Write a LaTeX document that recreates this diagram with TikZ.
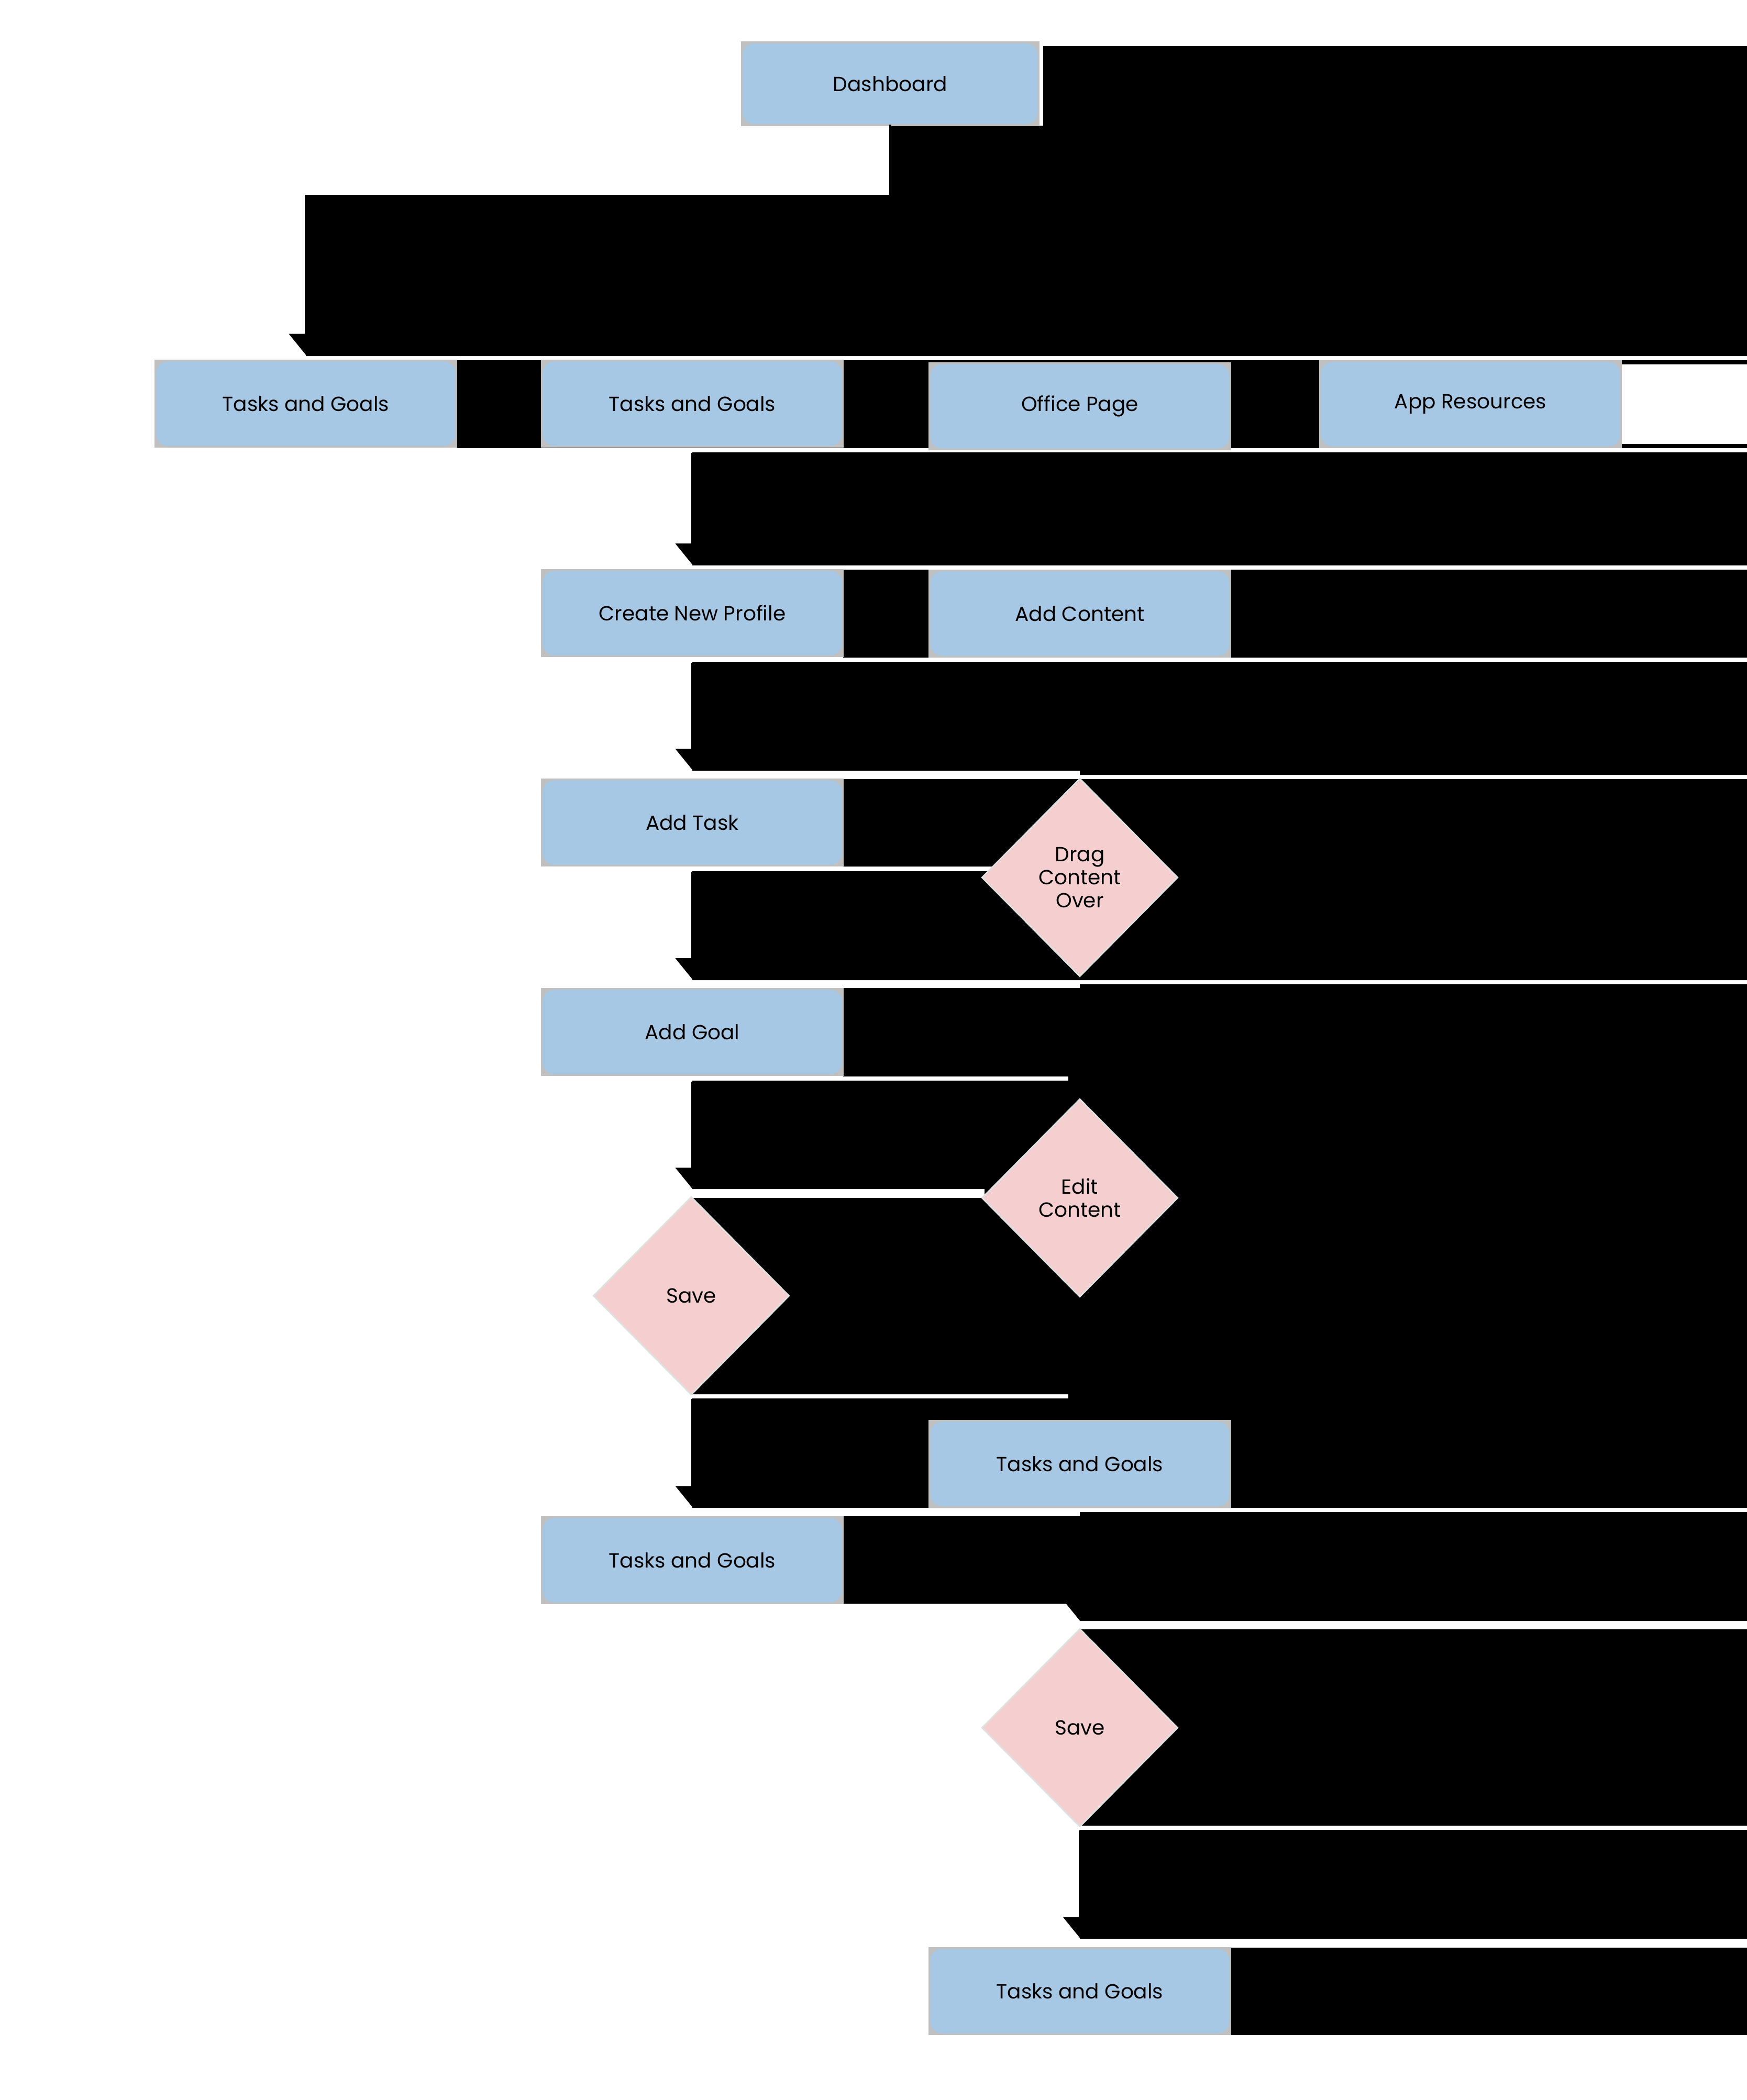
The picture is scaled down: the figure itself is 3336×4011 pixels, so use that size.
\documentclass[tikz,border=0pt]{standalone}
\usepackage{fontspec}
\setmainfont{Poppins}
\usetikzlibrary{shapes.geometric,arrows.meta}
\definecolor{boxblue}{HTML}{A7C8E5}
\definecolor{diapink}{HTML}{F5CFD0}
\definecolor{shadegray}{HTML}{C0C0C0}
\newcommand\labelfont{\fontsize{11.1pt}{12.6pt}\selectfont}
\pgfdeclarelayer{fills}
\pgfdeclarelayer{shades}
\pgfsetlayers{fills,shades,main}
\begin{document}
\begin{tikzpicture}[x=0.01cm,y=-0.01cm,
  card/.style={rectangle, rounded corners=0.22cm, fill=boxblue, minimum width=5.71cm,
    minimum height=1.61cm, inner sep=0pt, font=\labelfont},
  choice/.style={diamond, aspect=1, fill=diapink, draw=black!12, line width=0.03cm,
    minimum width=3.74cm, minimum height=3.78cm, inner sep=0pt, font=\labelfont, align=center},
  conn/.style={draw=black, line width=0.04cm, -{Triangle[width=0.64cm,length=0.40cm]}},
  blk/.style={fill=black}]
\useasboundingbox (0,0) rectangle (3336,4011);

% nodes
\node[card, minimum width=5.63cm, minimum height=1.54cm] (dash) at (1700,160) {Dashboard};
\node[card] (tgA)     at (584,771)  {Tasks and Goals};
\node[card] (tgB)     at (1322,771) {Tasks and Goals};
\node[card] (office)  at (2062,776) {Office Page};
\node[card] (appres)  at (2808,772) {App Resources};
\node[card] (profile) at (1322,1171) {Create New Profile};
\node[card] (content) at (2062,1172) {Add Content};
\node[card] (task)    at (1322,1571) {Add Task};
\node[choice] (drag)  at (2062,1676) {Drag\\Content\\Over};
\node[card] (goal)    at (1322,1971) {Add Goal};
\node[choice] (edit)  at (2062,2288) {Edit\\Content};
\node[choice] (saveA) at (1320,2475) {Save};
\node[card] (tgC)     at (2062,2796) {Tasks and Goals};
\node[card] (tgD)     at (1322,2980) {Tasks and Goals};
\node[choice] (saveB) at (2062,3300) {Save};
\node[card] (tgE)     at (2062,3803) {Tasks and Goals};

% grey frames behind the cards
\begin{pgfonlayer}{shades}
\foreach \n in {dash,tgA,tgB,office,appres,profile,content,task,goal,tgC,tgD,tgE}
  \fill[shadegray] ([shift={(-3,-3)}]\n.north west) rectangle ([shift={(3,3)}]\n.south east);
\end{pgfonlayer}

% black fields
\begin{pgfonlayer}{fills}
\fill[white] (0,0) rectangle (3336,4011);
\fill[blk] (1992,88) -- (3336,88) -- (3336,680) -- (584,680) -- (584,376) -- (1700,376)
  -- (1700,240) -- (1992,240) -- cycle;
\fill[blk] (872,688) rectangle (3096,856);
\fill[blk] (3096,688) rectangle (3336,696);
\fill[blk] (3096,848) rectangle (3336,856);
\fill[blk] (1322,864) rectangle (3336,1080);
\fill[blk] (1610,1088) rectangle (3336,1256);
\fill[blk] (1322,1264) -- (3336,1264) -- (3336,1480) -- (2062,1480) -- (2062,1472)
  -- (1322,1472) -- cycle;
\fill[blk] (1610,1488) -- (3336,1488) -- (3336,1872) -- (1322,1872) -- (1322,1664)
  -- (2062,1664) -- (2062,1655) -- (1610,1655) -- cycle;
\fill[blk] (1610,1887) -- (2062,1887) -- (2062,1880) -- (3336,1880) -- (3336,2880)
  -- (1322,2880) -- (1322,2671) -- (2040,2671) -- (2040,2663) -- (1322,2663)
  -- (1322,2288) -- (1880,2288) -- (1880,2271) -- (1322,2271) -- (1322,2064)
  -- (2040,2064) -- (2040,2056) -- (1610,2056) -- cycle;
\fill[blk] (1610,2896) -- (2062,2896) -- (2062,2888) -- (3336,2888) -- (3336,3096)
  -- (2062,3096) -- (2062,3063) -- (1610,3063) -- cycle;
\fill[blk] (2062,3112) rectangle (3336,3487);
\fill[blk] (2062,3495) rectangle (3336,3703);
\fill[blk] (2350,3720) rectangle (3336,3887);
\end{pgfonlayer}

% connectors
\draw[conn, shorten >=0.12cm] (dash.south) -- ++(0,136) -| (tgA.north);
\draw[conn, shorten <=0.13cm, shorten >=0.115cm] (tgB.south) -- (profile.north);
\draw[conn, shorten <=0.135cm, shorten >=0.195cm] (profile.south) -- (task.north);
\draw[conn, shorten <=0.13cm, shorten >=0.195cm] (task.south) -- (goal.north);
\draw[conn, shorten <=0.135cm, shorten >=0.14cm] (goal.south) -- (saveA.north -| goal.south);
\draw[conn, shorten <=0.06cm, shorten >=0.205cm] (saveA.south -| tgD.north) -- (tgD.north);
\draw[conn, shorten <=0.08cm, shorten >=0.14cm] (tgD.east) -| (saveB.north);
\draw[conn, shorten <=0.05cm, shorten >=0.205cm] (saveB.south) -- (tgE.north);
\end{tikzpicture}
\end{document}
